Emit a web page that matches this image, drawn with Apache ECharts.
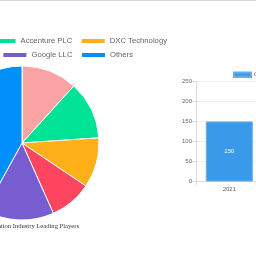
<!DOCTYPE html>
<html><head><meta charset="utf-8">
<script src="https://cdn.jsdelivr.net/npm/echarts@6/dist/echarts.min.js"></script>
<style>html,body{margin:0;padding:0;background:#fff}#c{width:256px;height:256px}</style>
</head><body><div id="c"></div>
<script>
const playerNames = ['IBM Corporation', 'Accenture PLC', 'DXC Technology', 'Microsoft Corporation', 'Google LLC', 'Others'];
const playerShares = [11.75, 12.2, 10.5, 8.9, 14.7, 42];
const playerColors = ['#F9A3A4', '#00E396', '#FEB019', '#FF4560', '#775DD0', '#008FFB'];
const years = ['2021'];
const marketValues = [150];
const barSeriesName = 'Consumption Value';
const yTicks = [0, 250, 50];
const chartTitle = 'Intelligent Process Automation Industry Leading Players';

const chart = echarts.init(document.getElementById('c'), null, {renderer: 'canvas'});
const legendText = {fontSize: 7.7, color: '#666', fontFamily: 'Arial, Liberation Sans, sans-serif', padding: [0, 0, 0, -1]};
chart.setOption({
  animation: false,
  graphic: [
    {type: 'rect', shape: {x: 0, y: 0, width: 256, height: 1}, style: {fill: '#d4d4d4'}},
    {type: 'text', x: 79, y: 226, style: {text: chartTitle, fill: '#333', fontSize: 6.6, fontFamily: 'Liberation Serif, Times New Roman, serif', align: 'right', verticalAlign: 'middle', textAlign: 'right', textVerticalAlign: 'middle'}}
  ],
  legend: [
    {data: playerNames.slice(0, 3), right: 89, top: 37, width: 600, padding: 0, itemWidth: 25, itemHeight: 6, itemGap: 7.5, icon: 'rect', textStyle: legendText, orient: 'horizontal'},
    {data: playerNames.slice(3), right: 123, top: 51, width: 600, padding: 0, itemWidth: 25, itemHeight: 6, itemGap: 7.5, icon: 'rect', textStyle: legendText, orient: 'horizontal'},
    {data: [barSeriesName], left: 233, top: 71.5, width: 200, padding: 0, itemWidth: 17, itemHeight: 4.5, icon: 'rect', textStyle: {fontSize: 6, color: '#666', fontFamily: 'Arial, sans-serif', padding: [0, 0, 0, -2]}}
  ],
  grid: {left: 196, top: 81.5, width: 66.6, height: 100, containLabel: false, outerBoundsMode: 'none'},
  xAxis: {
    type: 'category', data: years,
    axisLine: {lineStyle: {color: '#ddd'}},
    axisTick: {show: true, length: 4, lineStyle: {color: '#ddd'}},
    axisLabel: {fontSize: 6, color: '#666', margin: 5}
  },
  yAxis: {
    type: 'value', min: yTicks[0], max: yTicks[1], interval: yTicks[2],
    axisLine: {show: true, lineStyle: {color: '#ddd'}},
    axisTick: {show: true, length: 4, lineStyle: {color: '#ddd'}},
    splitLine: {lineStyle: {color: '#eee'}},
    axisLabel: {fontSize: 6, color: '#666', margin: 4}
  },
  series: [
    {
      type: 'pie', name: 'Players', center: [22, 143], radius: 77, startAngle: 90, clockwise: true,
      label: {show: false}, labelLine: {show: false},
      itemStyle: {borderColor: '#fff', borderWidth: 1},
      data: playerNames.map((n, i) => ({name: n, value: playerShares[i], itemStyle: {color: playerColors[i]}}))
    },
    {
      type: 'bar', name: barSeriesName, data: marketValues, barWidth: 47,
      itemStyle: {color: '#3A9AE9', borderColor: '#62AEEF', borderWidth: 1},
      label: {show: true, position: 'inside', color: '#fff', fontSize: 6}
    }
  ]
});
</script></body></html>
